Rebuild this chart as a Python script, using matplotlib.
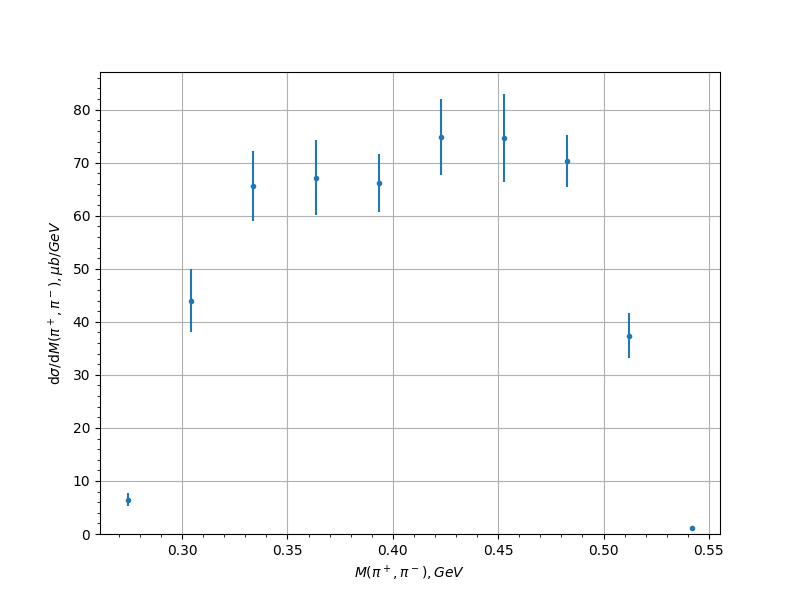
import matplotlib
matplotlib.use("Agg")
import matplotlib.pyplot as plt
import numpy as np

# invariant mass bins and cross section values
mass = np.array([0.2744, 0.3043, 0.3337, 0.3636, 0.3935, 0.4229, 0.4527, 0.4826, 0.5121, 0.5419])
xsec = np.array([6.5, 44.0, 65.7, 67.2, 66.2, 74.9, 74.7, 70.4, 37.4, 1.1])
xsec_err = np.array([1.3, 6.0, 6.6, 7.0, 5.5, 7.2, 8.3, 4.9, 4.2, 0.2])

fig, ax = plt.subplots(figsize=(8, 6), dpi=100)
ax.errorbar(mass, xsec, yerr=xsec_err, fmt=".")
ax.set_ylim(bottom=0)
ax.minorticks_on()
ax.grid(which="major")
ax.set_xlabel(r"$M(\pi^+,\pi^-), GeV$")
ax.set_ylabel(r"d$\sigma$/d$M(\pi^+,\pi^-), \mu b/GeV$")

fig.savefig("out.png")
